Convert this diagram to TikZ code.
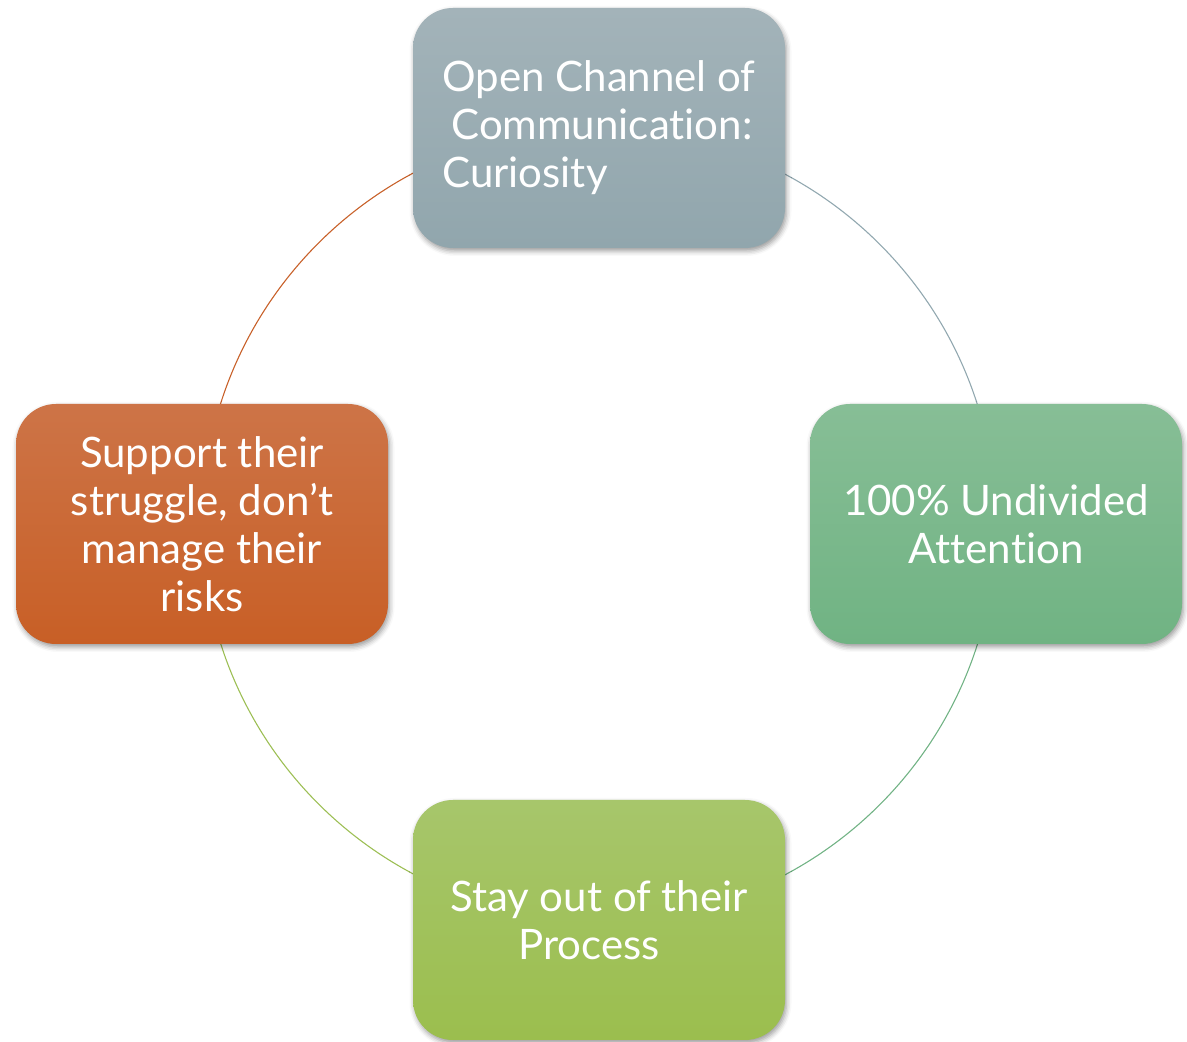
\documentclass[tikz,border=0pt]{standalone}
\usepackage{fontspec}
\setmainfont[Ligatures={NoCommon,NoRequired,NoContextual}]{Lato}
\usetikzlibrary{shadows.blur,backgrounds}

% box fills (top/bottom of each vertical gradient) and ring colours
\definecolor{slateA}{HTML}{A3B3B9}
\definecolor{slateB}{HTML}{91A6AD}
\definecolor{mintA}{HTML}{87BE96}
\definecolor{mintB}{HTML}{70B383}
\definecolor{limeA}{HTML}{A7C66B}
\definecolor{limeB}{HTML}{9BBE4E}
\definecolor{rustA}{HTML}{CD7447}
\definecolor{rustB}{HTML}{C85F26}
\definecolor{ringSlate}{HTML}{92A8B0}
\definecolor{ringMint}{HTML}{72B385}
\definecolor{ringLime}{HTML}{9DBF55}
\definecolor{ringRust}{HTML}{C8612A}

\begin{document}
\begin{tikzpicture}[x=1pt,y=1pt,
  box/.style={rounded corners=40pt, minimum width=372pt, minimum height=240pt,
    inner sep=0pt, text=white, align=center,
    font=\fontsize{42}{48}\selectfont,
    blur shadow={shadow xshift=1.5pt, shadow yshift=-3pt,
      shadow blur radius=5pt, shadow opacity=40}},
  ring/.style={line width=1.1pt}]
\useasboundingbox (0,0) rectangle (1187,1042);

\node[box, top color=slateA, bottom color=slateB, align=left] (open) at (599,914)
  {Open Channel of\\\rule{9pt}{0pt}Communication:\\Curiosity};
\node[box, top color=mintA, bottom color=mintB] (attn) at (996,518)
  {100\% Undivided\\Attention};
\node[box, top color=limeA, bottom color=limeB] (stay) at (599,122)
  {Stay out of their\\Process\rule{20pt}{0pt}};
\node[box, top color=rustA, bottom color=rustB] (supp) at (202,518)
  {Support their\\struggle, don’t\\manage their\\risks};

% the ring joining the four boxes, one quarter per colour
\begin{scope}[on background layer]
  \draw[ring, ringSlate] (open.center) arc[start angle=90,  end angle=0,    radius=397pt];
  \draw[ring, ringMint]  (attn.center) arc[start angle=0,   end angle=-90,  radius=397pt];
  \draw[ring, ringLime]  (stay.center) arc[start angle=270, end angle=180,  radius=397pt];
  \draw[ring, ringRust]  (supp.center) arc[start angle=180, end angle=90,   radius=397pt];
\end{scope}
\end{tikzpicture}
\end{document}
